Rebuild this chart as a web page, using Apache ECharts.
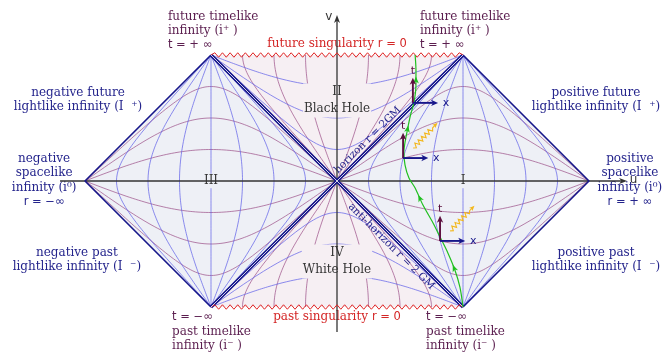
<!DOCTYPE html>
<html>
<head>
<meta charset="utf-8">
<script src="https://cdn.jsdelivr.net/npm/echarts@6/dist/echarts.min.js"></script>
<style>
  html, body { margin: 0; padding: 0; background: #ffffff; }
  #chart { width: 672px; height: 354px; }
</style>
</head>
<body>
<div id="chart"></div>
<script>
// Penrose diagram of the maximally extended Schwarzschild spacetime.
// Coordinates are compactified Kruskal null coordinates, in degrees:
// spacelike infinity i0 sits at u = ±90, the singularities at v = ±45.

// constant-r curves outside the horizon: where each one crosses the u axis
const outerRadiusCrossings = [11.25, 22.5, 33.75, 45, 56.25, 67.5, 78.75];
// constant-t curves outside the horizon: height where each one crosses u = 45
const outerTimeCrossings = [11.25, 22.5, 33.75];
// constant-r curves inside the horizon: height where each one crosses the v axis
const innerRadiusCrossings = [11.25, 22.5, 33.75];
// constant-t curves inside the horizon: where each one meets the singularity
const innerTimeCrossings = [11.25, 22.5, 33.75];

// worldline of an infalling observer (u, v)
const worldlineU = [45, 43.9, 42.1, 39.6, 36.8, 34.3, 30.7, 27.9, 25.7, 24.3, 23.9, 24.3, 25.0, 26.1, 27.5, 28.2, 28.2, 27.9];
const worldlineV = [-45, -37.9, -31.8, -25.7, -20.0, -15.0, -8.6, -2.5, 1.1, 5.7, 10.4, 13.9, 17.5, 22.9, 28.2, 34.3, 39.6, 45];
// heights of the direction arrows along the worldline
const worldlineArrowV = [-31.1, -6.1, 18.6, 36.1];

// local (t, x) frames carried by the observer
const frameU = [27.1, 23.6, 36.8];
const frameV = [27.9, 8.2, -21.4];
const frameHasLightRay = [false, true, true];

// ---------------------------------------------------------------------------
const PX_PER_DEG = 2.8;
const ORIGIN_X = 337, ORIGIN_Y = 181, WIDTH = 672, HEIGHT = 354;
const D = Math.PI / 180;

const SERIF = '"DejaVu Serif", serif';
const SANS = '"DejaVu Sans", sans-serif';
const NAVY = '#16168a';
const RADIUS_COLOR = 'rgba(92, 92, 232, 0.78)';
const TIME_COLOR = 'rgba(150, 70, 130, 0.75)';
const OUTSIDE_FILL = '#eef0f6';
const INSIDE_FILL = '#f6eff3';
const TIME_ARROW = '#5c0f3e';
const LIGHT_RAY = '#f2b71c';
const LABEL_NAVY = '#24248c';
const LABEL_PLUM = '#5b1e4f';

// Kruskal null coordinates (U, V) -> compactified (u, v) in degrees
function penrose(U, V) {
  const a = Math.atan(U), b = Math.atan(V);
  return [(b - a) / 2 / D, (b + a) / 2 / D];
}

function outerRadiusCurve(u0) {
  const k = Math.pow(Math.tan(u0 * D), 2);
  const pts = [];
  const N = 180;
  for (let i = 0; i <= N; i++) {
    const V = Math.tan(i / N * Math.PI / 2);
    const U = V === 0 ? -Infinity : -k / V;
    pts.push(penrose(U, V));
  }
  return pts;
}

function outerTimeCurve(v0) {
  const e = Math.tan((45 + v0) * D);
  const pts = [];
  const N = 180;
  for (let i = 0; i <= N; i++) {
    const s = Math.tan(i / N * Math.PI / 2);
    pts.push(penrose(-s / e, s * e));
  }
  return pts;
}

function innerRadiusCurve(v0) {
  const k = Math.pow(Math.tan(v0 * D), 2);
  const pts = [];
  const N = 180;
  for (let i = 0; i <= N; i++) {
    const V = Math.tan(i / N * Math.PI / 2);
    const U = V === 0 ? Infinity : k / V;
    pts.push(penrose(U, V));
  }
  return pts;
}

function innerTimeCurve(u0) {
  const Vs = Math.tan((45 + u0) * D), Us = 1 / Vs;
  const pts = [];
  const N = 80;
  for (let i = 0; i <= N; i++) {
    const s = i / N;
    pts.push(penrose(s * Us, s * Vs));
  }
  return pts;
}

const flip = (pts, sx, sy) => pts.map(p => [p[0] * sx, p[1] * sy]);

function lineSeries(pts, color, width, z, extra) {
  return Object.assign({
    type: 'line', data: pts, showSymbol: false, symbol: 'none',
    lineStyle: { color: color, width: width }, z: z, silent: true,
    animation: false, clip: false
  }, extra || {});
}

const series = [];

// region fills
const regionShapes = [
  { pts: [[0, 0], [45, 45], [90, 0], [45, -45]], fill: OUTSIDE_FILL },
  { pts: [[0, 0], [-45, 45], [-90, 0], [-45, -45]], fill: OUTSIDE_FILL },
  { pts: [[0, 0], [-45, 45], [45, 45]], fill: INSIDE_FILL },
  { pts: [[0, 0], [-45, -45], [45, -45]], fill: INSIDE_FILL }
];
series.push({
  type: 'custom', coordinateSystem: 'cartesian2d', z: 1, silent: true, animation: false,
  data: regionShapes.map(() => [0, 0]),
  renderItem: (params, api) => {
    const r = regionShapes[params.dataIndex];
    return { type: 'polygon', shape: { points: r.pts.map(p => api.coord(p)) }, style: { fill: r.fill } };
  }
});

// constant-t curves
outerTimeCrossings.forEach(v0 => {
  const c = outerTimeCurve(v0);
  [[1, 1], [1, -1], [-1, 1], [-1, -1]].forEach(s => series.push(lineSeries(flip(c, s[0], s[1]), TIME_COLOR, 0.9, 2)));
});
innerTimeCrossings.forEach(u0 => {
  const c = innerTimeCurve(u0);
  [[1, 1], [1, -1], [-1, 1], [-1, -1]].forEach(s => series.push(lineSeries(flip(c, s[0], s[1]), TIME_COLOR, 0.9, 2)));
});
// constant-r curves
outerRadiusCrossings.forEach(u0 => {
  const c = outerRadiusCurve(u0);
  [[1, 1], [-1, 1]].forEach(s => series.push(lineSeries(flip(c, s[0], s[1]), RADIUS_COLOR, 0.9, 2)));
});
innerRadiusCrossings.forEach(v0 => {
  const c = innerRadiusCurve(v0);
  [[1, 1], [1, -1]].forEach(s => series.push(lineSeries(flip(c, s[0], s[1]), RADIUS_COLOR, 0.9, 2)));
});

// outer null boundaries (scri)
series.push(lineSeries([[45, 45], [90, 0], [45, -45]], NAVY, 1.6, 5));
series.push(lineSeries([[-45, 45], [-90, 0], [-45, -45]], NAVY, 1.6, 5));
// horizon and anti-horizon, drawn as double lines
series.push(lineSeries([[-45, -45], [45, 45]], NAVY, 3.4, 5));
series.push(lineSeries([[-45, 45], [45, -45]], NAVY, 3.4, 5));
series.push(lineSeries([[-45, -45], [45, 45]], '#e4e5f4', 0.9, 5.1));
series.push(lineSeries([[-45, 45], [45, -45]], '#e4e5f4', 0.9, 5.1));

// singularities as zigzags
function zigzag(v) {
  const teeth = 33, amp = 0.8;
  const pts = [];
  for (let i = 0; i <= teeth * 2; i++) {
    const u = -45 + 90 * i / (teeth * 2);
    const off = (i === 0 || i === teeth * 2) ? 0 : (i % 2 ? amp : -amp);
    pts.push([u, v + off]);
  }
  return pts;
}
series.push(lineSeries(zigzag(45), '#e02424', 1, 5));
series.push(lineSeries(zigzag(-45), '#e02424', 1, 5));

// arrow head helper (pixel space)
function arrowHead(tip, from, len, half) {
  const dx = tip[0] - from[0], dy = tip[1] - from[1];
  const L = Math.hypot(dx, dy) || 1;
  const ux = dx / L, uy = dy / L;
  const bx = tip[0] - ux * len, by = tip[1] - uy * len;
  return [
    [tip[0], tip[1]],
    [bx - uy * half, by + ux * half],
    [tip[0] - ux * len * 0.72, tip[1] - uy * len * 0.72],
    [bx + uy * half, by - ux * half]
  ];
}
function arrowGroup(from, to, color, width, len, half) {
  const dx = to[0] - from[0], dy = to[1] - from[1];
  const L = Math.hypot(dx, dy);
  const end = [to[0] - dx / L * len * 0.6, to[1] - dy / L * len * 0.6];
  return [
    { type: 'line', shape: { x1: from[0], y1: from[1], x2: end[0], y2: end[1] }, style: { stroke: color, lineWidth: width } },
    { type: 'polygon', shape: { points: arrowHead(to, from, len, half) }, style: { fill: color } }
  ];
}

// labels (text and placement)
const rich = color => ({ m: { font: '11.5px ' + SANS, fill: color } });
const labelDefs = [
  { pos: [-60.4, 53.6], text: 'future timelike\ninfinity (i⁺ )\n{m|t = + ∞}', color: LABEL_PLUM, align: 'left' },
  { pos: [29.6, 53.6], text: 'future timelike\ninfinity (i⁺ )\n{m|t = + ∞}', color: LABEL_PLUM, align: 'left' },
  { pos: [-58.9, -53.8], text: '{m|t = −∞}\npast timelike\ninfinity (i⁻ )', color: LABEL_PLUM, align: 'left' },
  { pos: [31.8, -53.8], text: '{m|t = −∞}\npast timelike\ninfinity (i⁻ )', color: LABEL_PLUM, align: 'left' },
  { pos: [0, 48.9], text: 'future singularity {m|r = 0}', color: '#d42626' },
  { pos: [0, -48.6], text: 'past singularity {m|r = 0}', color: '#d42626' },
  { pos: [-92.5, 28.9], text: 'negative future\nlightlike infinity (I  ⁺)', color: LABEL_NAVY },
  { pos: [-104.6, 0.2], text: 'negative\nspacelike\ninfinity (i⁰)\n{m|r = −∞}', color: LABEL_NAVY },
  { pos: [-92.9, -28.2], text: 'negative past\nlightlike infinity (I  ⁻)', color: LABEL_NAVY },
  { pos: [92.5, 28.9], text: 'positive future\nlightlike infinity (I  ⁺)', color: LABEL_NAVY },
  { pos: [104.6, 0.2], text: 'positive\nspacelike\ninfinity (i⁰)\n{m|r = + ∞}', color: LABEL_NAVY },
  { pos: [92.5, -28.2], text: 'positive past\nlightlike infinity (I  ⁻)', color: LABEL_NAVY },
  { pos: [0, 28.75], text: 'II\nBlack Hole', color: '#353535', bg: INSIDE_FILL, lineHeight: 17 },
  { pos: [0, -28.75], text: 'IV\nWhite Hole', color: '#353535', bg: INSIDE_FILL, lineHeight: 17 },
  { pos: [-45, 0], text: 'III', color: '#353535', bg: OUTSIDE_FILL },
  { pos: [45, 0], text: 'I', color: '#353535', bg: OUTSIDE_FILL },
  { pos: [-2.9, 58.6], text: 'v', color: '#333333', font: '12px ' + SANS },
  { pos: [105.9, 0.5], text: 'u', color: '#333333', font: '12px ' + SANS },
  { pos: [11.0, 14.6], text: 'horizon r = 2GM', color: LABEL_NAVY, font: '10.5px ' + SERIF, rotate: Math.PI / 4 },
  { pos: [19.4, -23.4], text: 'anti-horizon r = 2 GM', color: LABEL_NAVY, font: '10.5px ' + SERIF, rotate: -Math.PI / 4 }
];

// observer worldline
const worldline = worldlineU.map((u, i) => [u, worldlineV[i]]);
series.push(lineSeries(worldline, '#1fbf1f', 1.2, 6, { smooth: 0.3 }));
series.push({
  type: 'custom', coordinateSystem: 'cartesian2d', z: 6, silent: true, animation: false,
  data: worldlineArrowV.map(v => [0, v]),
  renderItem: (params, api) => {
    const v = worldlineArrowV[params.dataIndex];
    let j = 0;
    while (j < worldline.length - 2 && worldline[j + 1][1] < v) j++;
    const a = worldline[j], b = worldline[j + 1];
    const t = (v - a[1]) / (b[1] - a[1]);
    const p = api.coord([a[0] + t * (b[0] - a[0]), v]);
    const pa = api.coord(a), pb = api.coord(b);
    const dx = pb[0] - pa[0], dy = pb[1] - pa[1];
    const L = Math.hypot(dx, dy);
    const tip = [p[0] + dx / L * 3.5, p[1] + dy / L * 3.5];
    return { type: 'polygon', shape: { points: arrowHead(tip, p, 7, 2.9) }, style: { fill: '#1fbf1f' } };
  }
});

// local frames with light rays
series.push({
  type: 'custom', coordinateSystem: 'cartesian2d', z: 7, silent: true, animation: false,
  data: frameU.map((u, i) => [u, frameV[i]]),
  renderItem: (params, api) => {
    const i = params.dataIndex;
    const u = frameU[i], v = frameV[i];
    const o = api.coord([u, v]);
    const tTip = api.coord([u, v + 9]);
    const xTip = api.coord([u + 9, v]);
    let children = [];
    children = children.concat(arrowGroup(o, tTip, TIME_ARROW, 1.9, 7, 3.2));
    children = children.concat(arrowGroup(o, xTip, NAVY, 1.9, 7, 3.2));
    children.push({ type: 'text', x: tTip[0], y: tTip[1] - 7, style: { text: 't', fill: TIME_ARROW, font: '11px ' + SANS, align: 'center', verticalAlign: 'middle' } });
    children.push({ type: 'text', x: xTip[0] + 8, y: xTip[1], style: { text: 'x', fill: NAVY, font: '11px ' + SANS, align: 'center', verticalAlign: 'middle' } });
    if (frameHasLightRay[i]) {
      const s = api.coord([u + 3.6, v + 3.6]);
      const e = api.coord([u + 12.3, v + 12.6]);
      const dx = e[0] - s[0], dy = e[1] - s[1];
      const L = Math.hypot(dx, dy);
      const ux = dx / L, uy = dy / L;
      const zigLen = L - 7;
      const n = 12;
      const pts = [s];
      for (let k = 1; k < n; k++) {
        const d = zigLen * k / n;
        const off = (k % 2 ? 2.2 : -2.2);
        pts.push([s[0] + ux * d - uy * off, s[1] + uy * d + ux * off]);
      }
      pts.push([s[0] + ux * zigLen, s[1] + uy * zigLen]);
      pts.push([s[0] + ux * (L - 3), s[1] + uy * (L - 3)]);
      children.push({ type: 'polyline', shape: { points: pts }, style: { stroke: LIGHT_RAY, lineWidth: 1.1, fill: null } });
      children.push({ type: 'polygon', shape: { points: arrowHead(e, s, 5.5, 2.3) }, style: { fill: LIGHT_RAY } });
    }
    return { type: 'group', children: children };
  }
});

// labels
series.push({
  type: 'custom', coordinateSystem: 'cartesian2d', z: 3, silent: true, animation: false,
  data: labelDefs.map(l => l.pos),
  renderItem: (params, api) => {
    const L = labelDefs[params.dataIndex];
    const p = api.coord(L.pos);
    const style = {
      text: L.text, fill: L.color, font: L.font || ('12px ' + SERIF),
      align: L.align || 'center', verticalAlign: 'middle',
      lineHeight: L.lineHeight || 14.5, rich: rich(L.color)
    };
    if (L.bg) { style.backgroundColor = L.bg; style.padding = [0, 1]; }
    return { type: 'text', x: p[0], y: p[1], rotation: L.rotate || 0, style: style };
  }
});

// u and v axes, drawn over the label boxes
const axisSegments = [[[-98.9, 0], [103.6, 0]], [[0, -53.9], [0, 59.3]]];
series.push({
  type: 'custom', coordinateSystem: 'cartesian2d', z: 4, silent: true, animation: false,
  data: axisSegments.map(() => [0, 0]),
  renderItem: (params, api) => {
    const seg = axisSegments[params.dataIndex];
    return { type: 'group', children: arrowGroup(api.coord(seg[0]), api.coord(seg[1]), '#333333', 1.3, 8, 3) };
  }
});

const chart = echarts.init(document.getElementById('chart'), null, { renderer: 'canvas' });
chart.setOption({
  backgroundColor: '#ffffff',
  animation: false,
  grid: { left: 0, right: 0, top: 0, bottom: 0, containLabel: false, outerBoundsMode: 'none' },
  xAxis: { type: 'value', show: false, min: -ORIGIN_X / PX_PER_DEG, max: (WIDTH - ORIGIN_X) / PX_PER_DEG },
  yAxis: { type: 'value', show: false, min: -(HEIGHT - ORIGIN_Y) / PX_PER_DEG, max: ORIGIN_Y / PX_PER_DEG },
  series: series
});
</script>
</body>
</html>
